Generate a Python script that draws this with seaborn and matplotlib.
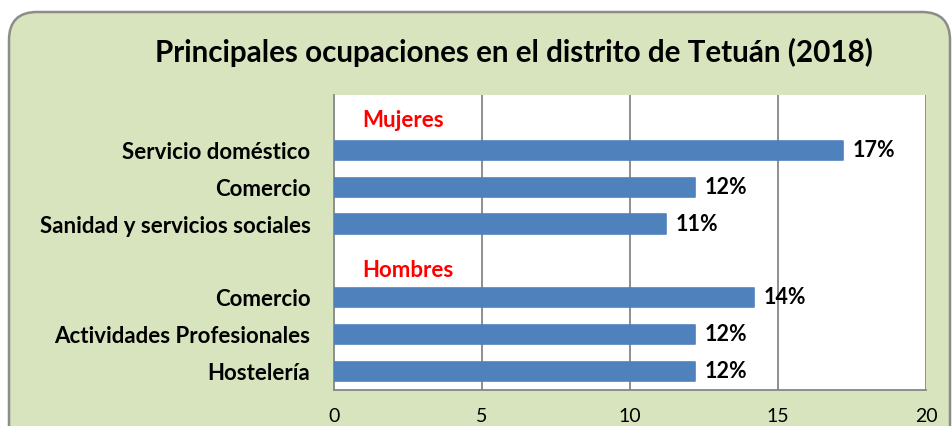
import matplotlib
matplotlib.use("Agg")
import matplotlib.pyplot as plt
import seaborn as sns
import pandas as pd
from matplotlib.patches import FancyBboxPatch
from matplotlib.transforms import IdentityTransform

# ---- data ----
title = "Principales ocupaciones en el distrito de Tetuán (2018)"
group_mujeres = "Mujeres"
group_hombres = "Hombres"
mujeres_labels = ["Servicio doméstico", "Comercio", "Sanidad y servicios sociales"]
mujeres_values = [17.2, 12.2, 11.2]
hombres_labels = ["Comercio", "Actividades Profesionales", "Hostelería"]
hombres_values = [14.2, 12.2, 12.2]
x_ticks = [0, 5, 10, 15, 20]

# ---- table ----
m_keys = [f"M{i}" for i in range(len(mujeres_labels))]
h_keys = [f"H{i}" for i in range(len(hombres_labels))]
order = ["hdrM"] + m_keys + ["hdrH"] + h_keys
tick_text = [""] + mujeres_labels + [""] + hombres_labels
df = pd.DataFrame({
    "row": m_keys + h_keys,
    "value": mujeres_values + hombres_values,
})

sns.set_theme(style="white")
plt.rcParams["font.family"] = ["Lato", "DejaVu Sans"]

W, H, DPI = 953, 426, 100
fig = plt.figure(figsize=(W / DPI, H / DPI), dpi=DPI, facecolor="white")

# outer rounded panel (pixel coordinates)
panel = FancyBboxPatch((9, -60), 941, 426 - 12 + 60,
                       boxstyle="round,pad=0,rounding_size=28",
                       transform=IdentityTransform(),
                       facecolor="#D7E4BD", edgecolor="#8C8C8C", linewidth=1.8,
                       zorder=-10)
fig.patches.append(panel)

ax = fig.add_axes([334 / W, 1 - 390 / H, (926 - 334) / W, (390 - 95) / H])
ax.set_zorder(1)
ax.set_facecolor("white")

sns.barplot(data=df, x="value", y="row", order=order, orient="h",
            color="#4F81BD", saturation=1, width=0.52, ax=ax, zorder=3,
            edgecolor="#4F81BD", linewidth=1.2)
for p in ax.patches:
    p.set_joinstyle("round")

ax.set_xlim(0, 20)
ax.set_ylim(len(order) - 0.5, -0.5)
ax.set_xticks(x_ticks)
ax.set_xticklabels([str(t) for t in x_ticks], fontsize=14, color="black")
ax.set_yticks(range(len(order)))
ax.set_yticklabels(tick_text, fontsize=16, fontweight="bold", color="black")
ax.set_xlabel("")
ax.set_ylabel("")
ax.tick_params(axis="both", length=0)
ax.tick_params(axis="x", pad=13)
ax.tick_params(axis="y", pad=17)

for x in x_ticks[1:]:
    ax.axvline(x, color="#868686", lw=1.3, zorder=1)
for s in ["top", "right"]:
    ax.spines[s].set_visible(False)
for s in ["left", "bottom"]:
    ax.spines[s].set_color("#868686")
    ax.spines[s].set_linewidth(1.3)

# value labels
for key, val in zip(df["row"], df["value"]):
    ax.annotate(f"{val:.0f}%", xy=(val, order.index(key)), xytext=(7, 0),
                textcoords="offset points", va="center", ha="left",
                fontsize=15.5, fontweight="bold", color="black", zorder=5)

# group headers
ax.text(0.95, order.index("hdrM") + 0.18, group_mujeres, color="red",
        fontsize=16, fontweight="bold", va="center", ha="left")
ax.text(0.95, order.index("hdrH") + 0.27, group_hombres, color="red",
        fontsize=16, fontweight="bold", va="center", ha="left")

fig.text(514 / W, 1 - 52 / H, title, ha="center", va="center",
         fontsize=21.3, fontweight="bold", color="black")

fig.savefig("out.png", dpi=DPI, facecolor="white")
